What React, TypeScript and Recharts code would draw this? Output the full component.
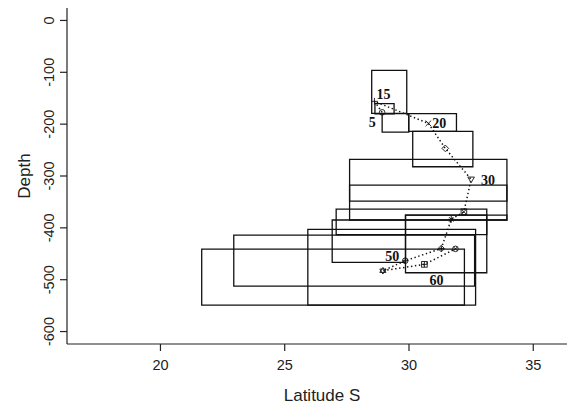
import React from 'react';
import { ComposedChart, XAxis, YAxis, Line, Scatter, ReferenceArea, Label } from 'recharts';

// ---- data ----
const xTicks = [20, 25, 30, 35];
const yTicks = [0, -100, -200, -300, -400, -500, -600];

const ages = [5, 15, 20, 25, 30, 35, 40, 45, 50, 55, 60, 65];
const latitude = [28.92, 28.61, 30.78, 31.46, 32.5, 32.21, 31.7, 31.3, 29.85, 28.95, 30.62, 31.87];
const depth = [-177.2, -156.0, -198.5, -246.7, -306.5, -369, -383.6, -440, -463.4, -482.7, -470.4, -440.5];
const labelledAges = [5, 15, 20, 30, 50, 60];

const boxLatMin = [28.5, 28.63, 28.92, 29.99, 30.15, 27.61, 27.61, 29.86, 27.07, 29.86, 26.91, 25.93, 22.95, 21.66];
const boxLatMax = [29.91, 29.4, 29.99, 31.91, 32.57, 33.94, 33.94, 33.94, 33.13, 33.13, 29.86, 32.68, 32.64, 32.23];
const boxDepthTop = [-96.2, -160.3, -179.6, -179.6, -213.9, -267.9, -317.5, -375.3, -363.7, -375.3, -384.9, -402.9, -413.9, -440.9];
const boxDepthBottom = [-179.2, -180.1, -215.2, -213.9, -282.2, -384.9, -348.3, -384.9, -412.9, -486.6, -466.5, -548.9, -512.2, -548.9];

const points = ages.map((a, i) => ({ age: a, lat: latitude[i], depth: depth[i], i }));

// ---- styles ----
const INK = '#111';
const symbols = ['circle', 'plus', 'cross', 'diamond', 'triDown', 'squareX', 'asterisk', 'diamondPlus', 'circlePlus', 'star', 'squarePlus', 'circleX'];
const labelOffsets: Record<number, [number, number]> = {
  5: [-10, 10],
  15: [9, -7],
  20: [11, 0],
  30: [17, 1],
  50: [-13, -5],
  60: [12, 16],
};

const Marker = (props: any) => {
  const { cx, cy, payload } = props;
  if (cx == null || cy == null) return null;
  const r = 2.8;
  const s = symbols[payload.i];
  const common = { stroke: INK, strokeWidth: 0.9, fill: 'none' };
  const parts: React.ReactNode[] = [];
  const plus = (k: string) => (
    <path key={k} d={`M${cx - r - 0.6},${cy}H${cx + r + 0.6}M${cx},${cy - r - 0.6}V${cy + r + 0.6}`} {...common} />
  );
  const cross = (k: string, rr = r) => (
    <path key={k} d={`M${cx - rr},${cy - rr}L${cx + rr},${cy + rr}M${cx - rr},${cy + rr}L${cx + rr},${cy - rr}`} {...common} />
  );
  switch (s) {
    case 'circle':
      parts.push(<circle key="c" cx={cx} cy={cy} r={r} {...common} />);
      break;
    case 'plus':
      parts.push(plus('p'));
      break;
    case 'cross':
      parts.push(cross('x'));
      break;
    case 'diamond':
      parts.push(<path key="d" d={`M${cx},${cy - r - 0.5}L${cx + r + 0.5},${cy}L${cx},${cy + r + 0.5}L${cx - r - 0.5},${cy}Z`} {...common} />);
      break;
    case 'triDown':
      parts.push(<path key="t" d={`M${cx - r - 0.5},${cy - r + 0.5}L${cx + r + 0.5},${cy - r + 0.5}L${cx},${cy + r + 0.5}Z`} {...common} />);
      break;
    case 'squareX':
      parts.push(<rect key="s" x={cx - r} y={cy - r} width={2 * r} height={2 * r} {...common} />);
      parts.push(cross('x'));
      break;
    case 'asterisk':
      parts.push(plus('p'));
      parts.push(cross('x', r * 0.8));
      break;
    case 'diamondPlus':
      parts.push(<path key="d" d={`M${cx},${cy - r - 0.5}L${cx + r + 0.5},${cy}L${cx},${cy + r + 0.5}L${cx - r - 0.5},${cy}Z`} {...common} />);
      parts.push(<path key="p" d={`M${cx - r},${cy}H${cx + r}M${cx},${cy - r}V${cy + r}`} {...common} />);
      break;
    case 'circlePlus':
      parts.push(<circle key="c" cx={cx} cy={cy} r={r} {...common} />);
      parts.push(<path key="p" d={`M${cx - r},${cy}H${cx + r}M${cx},${cy - r}V${cy + r}`} {...common} />);
      break;
    case 'star':
      parts.push(<path key="t1" d={`M${cx},${cy - r - 0.5}L${cx + r + 0.3},${cy + r * 0.6}L${cx - r - 0.3},${cy + r * 0.6}Z`} {...common} />);
      parts.push(<path key="t2" d={`M${cx},${cy + r + 0.5}L${cx + r + 0.3},${cy - r * 0.6}L${cx - r - 0.3},${cy - r * 0.6}Z`} {...common} />);
      break;
    case 'squarePlus':
      parts.push(<rect key="s" x={cx - r} y={cy - r} width={2 * r} height={2 * r} {...common} />);
      parts.push(<path key="p" d={`M${cx - r},${cy}H${cx + r}M${cx},${cy - r}V${cy + r}`} {...common} />);
      break;
    case 'circleX':
      parts.push(<circle key="c" cx={cx} cy={cy} r={r} {...common} />);
      parts.push(cross('x', r * 0.7));
      break;
  }
  const off = labelOffsets[payload.age];
  if (off && labelledAges.includes(payload.age)) {
    parts.push(
      <text
        key="lbl"
        x={cx + off[0]}
        y={cy + off[1] + 4.8}
        textAnchor="middle"
        fontFamily="'Liberation Serif', 'Times New Roman', serif"
        fontWeight="bold"
        fontSize={14}
        fill={INK}
      >
        {String(payload.age)}
      </text>
    );
  }
  return <g>{parts}</g>;
};

const SANS = "'Liberation Sans', Arial, Helvetica, sans-serif";

const XTick = (props: any) => {
  const { x, y, payload } = props;
  return (
    <text x={x} y={y + 17} textAnchor="middle" fontFamily={SANS} fontSize={14.5} fill="#222">
      {String(payload.value)}
    </text>
  );
};

const YTick = (props: any) => {
  const { x, y, payload } = props;
  const bx = x - 4;
  return (
    <text x={bx} y={y} textAnchor="middle" fontFamily={SANS} fontSize={14.5} fill="#222" transform={`rotate(-90, ${bx}, ${y})`}>
      {String(payload.value)}
    </text>
  );
};

export default function App() {
  return (
    <div style={{ position: 'absolute', left: 0, top: 0, width: 567, height: 406, overflow: 'hidden', background: '#fff' }}>
      <ComposedChart width={577} height={406} data={points} margin={{ top: 8, right: 0, bottom: 0, left: 0 }}>
        <XAxis
          type="number"
          dataKey="lat"
          domain={[16.24, 36.76]}
          ticks={xTicks}
          interval={0}
          allowDataOverflow
          height={62}
          tickSize={7}
          tickMargin={2}
          axisLine={{ stroke: '#222', strokeWidth: 1.2 }}
          tickLine={{ stroke: '#222', strokeWidth: 1.2 }}
          tick={<XTick />}
        >
          <Label
            content={(p: any) => {
              const vb = p.viewBox;
              return (
                <text x={vb.x + vb.width / 2} y={vb.y + 57} textAnchor="middle" fontFamily={SANS} fontSize={17} fill="#222">
                  Latitude S
                </text>
              );
            }}
          />
        </XAxis>
        <YAxis
          type="number"
          dataKey="depth"
          domain={[-624, 24]}
          ticks={yTicks}
          interval={0}
          allowDataOverflow
          width={67}
          tickSize={7}
          tickMargin={2}
          axisLine={{ stroke: '#222', strokeWidth: 1.2 }}
          tickLine={{ stroke: '#222', strokeWidth: 1.2 }}
          tick={<YTick />}
        >
          <Label
            content={(p: any) => {
              const vb = p.viewBox;
              const cy = vb.y + vb.height / 2;
              return (
                <text x={30} y={cy} textAnchor="middle" fontFamily={SANS} fontSize={17} fill="#222" transform={`rotate(-90, 30, ${cy})`}>
                  Depth
                </text>
              );
            }}
          />
        </YAxis>
        {boxLatMin.map((_, i) => (
          <ReferenceArea
            key={i}
            x1={boxLatMin[i]}
            x2={boxLatMax[i]}
            y1={boxDepthBottom[i]}
            y2={boxDepthTop[i]}
            fill="none"
            fillOpacity={0}
            stroke={INK}
            strokeWidth={1.3}
            ifOverflow="visible"
          />
        ))}
        <Line
          type="linear"
          dataKey="depth"
          stroke={INK}
          strokeWidth={1.5}
          strokeDasharray="1.4 2.6"
          dot={false}
          activeDot={false}
          isAnimationActive={false}
        />
        <Scatter dataKey="depth" shape={<Marker />} isAnimationActive={false} />
      </ComposedChart>
    </div>
  );
}
